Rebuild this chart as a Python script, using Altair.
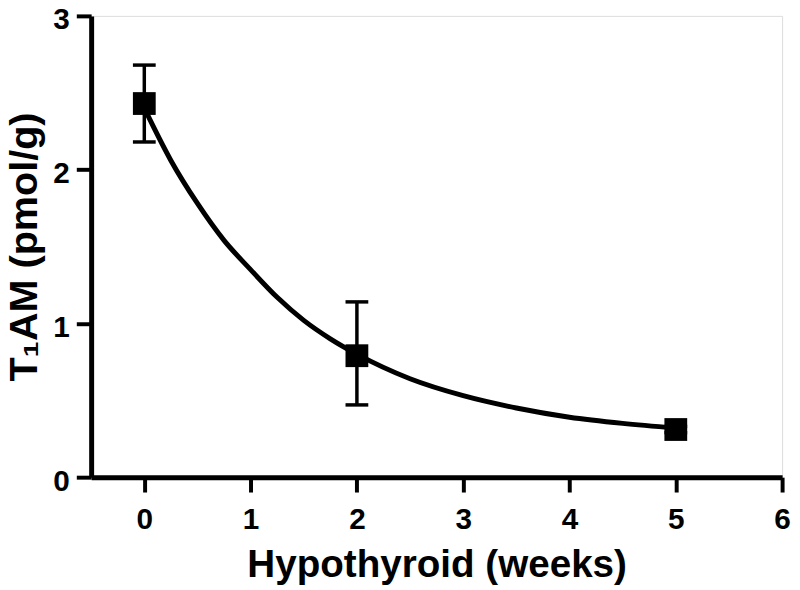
import altair as alt
import pandas as pd

# Measured points (mean with error bars)
weeks = [0, 2, 5]
mean_vals = [2.43, 0.79, 0.31]
err_low = [2.18, 0.47, 0.29]
err_high = [2.68, 1.14, 0.33]

# Fitted decay curve
curve_x = [0, 0.25, 0.5, 0.75, 1.0, 1.25, 1.5, 1.75, 2.0, 2.5, 3.0, 3.5, 4.0, 4.5, 5.0]
curve_y = [2.40, 2.06, 1.78, 1.54, 1.35, 1.17, 1.02, 0.90, 0.80, 0.64, 0.53, 0.45, 0.39, 0.35, 0.32]

x_ticks = [0, 1, 2, 3, 4, 5, 6]
y_ticks = [0, 1, 2, 3]

pts = pd.DataFrame({"week": weeks, "mean": mean_vals, "low": err_low, "high": err_high})
curve = pd.DataFrame({"week": curve_x, "val": curve_y})

FONT = "Liberation Sans"

xscale = alt.Scale(domain=[-0.5, 6], nice=False, zero=False)
yscale = alt.Scale(domain=[0, 3], nice=False)

xaxis = alt.Axis(
    values=x_ticks, format="d", title="Hypothyroid (weeks)", grid=False,
    domainColor="black", domainWidth=5, tickColor="black", tickWidth=4, tickSize=15,
    labelFont=FONT, labelFontSize=30, labelFontWeight="bold", labelColor="black",
    labelPadding=13, titleFont=FONT, titleFontSize=39, titleFontWeight="bold",
    titleColor="black", titlePadding=11, labelFlush=False,
)
yaxis = alt.Axis(
    values=y_ticks, format="d", title="T\u2081AM (pmol/g)", grid=False,
    domainColor="black", domainWidth=5, tickColor="black", tickWidth=4, tickSize=15,
    labelFont=FONT, labelFontSize=30, labelFontWeight="bold", labelColor="black",
    labelPadding=7, labelOffset=4, titleFont=FONT, titleFontSize=40, titleFontWeight="bold",
    titleColor="black", titlePadding=9, labelFlush=False,
)

line = alt.Chart(curve).mark_line(color="black", strokeWidth=5, interpolate="monotone").encode(
    x=alt.X("week:Q", scale=xscale, axis=xaxis),
    y=alt.Y("val:Q", scale=yscale, axis=yaxis),
)

bars = alt.Chart(pts).mark_rule(color="black", strokeWidth=3.5).encode(
    x="week:Q", y="low:Q", y2="high:Q"
)
cap_hi = alt.Chart(pts).mark_rule(color="black", strokeWidth=3.5, xOffset=-11.5, x2Offset=11.5).encode(
    x="week:Q", x2="week:Q", y="high:Q"
)
cap_lo = alt.Chart(pts).mark_rule(color="black", strokeWidth=3.5, xOffset=-11.5, x2Offset=11.5).encode(
    x="week:Q", x2="week:Q", y="low:Q"
)
marks = alt.Chart(pts).mark_square(color="black", size=530, opacity=1).encode(
    x="week:Q", y="mean:Q"
)

chart = alt.layer(line, bars, cap_hi, cap_lo, marks).properties(
    width=698, height=466,
    autosize=alt.AutoSizeParams(type="none"),
    padding={"left": 84, "top": 5, "right": 10, "bottom": 111},
).configure_view(stroke=None).configure(background="white")

chart.save("out.html", embed_options={"renderer": "svg", "actions": False})
